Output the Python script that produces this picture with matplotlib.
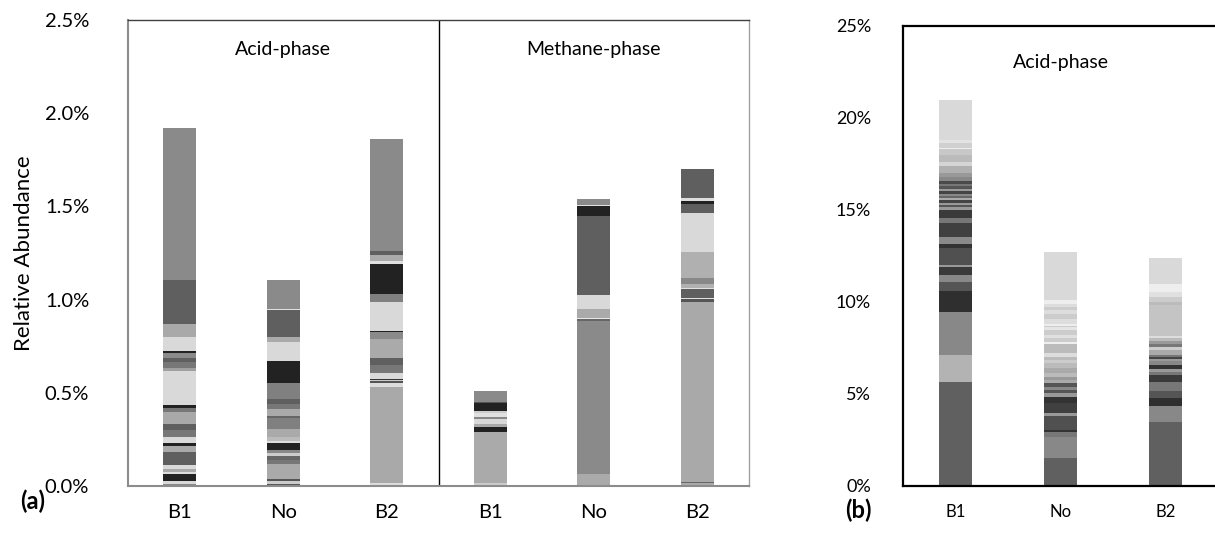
import numpy as np
import matplotlib
matplotlib.use("Agg")
import matplotlib.pyplot as plt
from matplotlib.ticker import FuncFormatter

plt.rcParams['font.family'] = ['Lato', 'DejaVu Sans']

# ---------------- Data: panel (a) ----------------
a_categories = ["B1", "No", "B2", "B1", "No", "B2"]
a_phases = ["Acid-phase", "Methane-phase"]
a_yticks = [0.0, 0.5, 1.0, 1.5, 2.0, 2.5]

# segment heights (%), listed bottom -> top, with matching grey shades
a_acid_b1_h = [0.011, 0.016, 0.038, 0.009, 0.018, 0.022, 0.070, 0.032, 0.015, 0.034,
               0.036, 0.029, 0.068, 0.018, 0.020, 0.179, 0.016, 0.032, 0.023, 0.025,
               0.012, 0.079, 0.066, 0.238, 0.815]
a_acid_b1_c = ["#8a8a8a", "#d9d9d9", "#222222", "#dddddd", "#a9a9a9", "#d9d9d9", "#5f5f5f",
               "#a9a9a9", "#222222", "#d9d9d9", "#777777", "#5f5f5f", "#a9a9a9", "#777777",
               "#222222", "#d9d9d9", "#a0a0a0", "#777777", "#5f5f5f", "#8a8a8a", "#222222",
               "#d9d9d9", "#a9a9a9", "#5f5f5f", "#8a8a8a"]

a_acid_no_h = [0.005, 0.007, 0.016, 0.009, 0.080, 0.025, 0.019, 0.016, 0.014, 0.039,
               0.014, 0.018, 0.043, 0.059, 0.013, 0.034, 0.027, 0.027, 0.087, 0.116,
               0.107, 0.023, 0.147, 0.005, 0.157]
a_acid_no_c = ["#aaaaaa", "#555555", "#cccccc", "#555555", "#aaaaaa", "#777777", "#666666",
               "#cccccc", "#888888", "#222222", "#dddddd", "#bbbbbb", "#aaaaaa", "#808080",
               "#666666", "#aaaaaa", "#777777", "#5f5f5f", "#808080", "#222222", "#d9d9d9",
               "#aaaaaa", "#5f5f5f", "#e0e0e0", "#8a8a8a"]

a_acid_b2_h = [0.018, 0.512, 0.023, 0.009, 0.007, 0.007, 0.029, 0.043, 0.041, 0.099,
               0.039, 0.007, 0.152, 0.045, 0.159, 0.016, 0.034, 0.021, 0.599]
a_acid_b2_c = ["#dddddd", "#a9a9a9", "#dddddd", "#555555", "#cccccc", "#333333", "#d9d9d9",
               "#777777", "#5f5f5f", "#aaaaaa", "#8a8a8a", "#222222", "#d9d9d9", "#808080",
               "#222222", "#e0e0e0", "#aaaaaa", "#5f5f5f", "#8a8a8a"]

a_meth_b1_h = [0.014, 0.275, 0.027, 0.016, 0.028, 0.011, 0.018, 0.012, 0.043, 0.007, 0.059]
a_meth_b1_c = ["#cccccc", "#aaaaaa", "#222222", "#aaaaaa", "#d9d9d9", "#888888", "#e0e0e0",
               "#cccccc", "#222222", "#555555", "#8a8a8a"]

a_meth_no_h = [0.005, 0.059, 0.821, 0.009, 0.005, 0.050, 0.073, 0.425, 0.054, 0.005, 0.032]
a_meth_no_c = ["#dddddd", "#aaaaaa", "#8a8a8a", "#666666", "#e6e6e6", "#aaaaaa", "#d9d9d9",
               "#5f5f5f", "#222222", "#e0e0e0", "#8a8a8a"]

a_meth_b2_h = [0.018, 0.005, 0.964, 0.016, 0.004, 0.048, 0.007, 0.021, 0.034, 0.138,
               0.211, 0.045, 0.019, 0.016, 0.152]
a_meth_b2_c = ["#aaaaaa", "#666666", "#a9a9a9", "#555555", "#e0e0e0", "#5f5f5f", "#e0e0e0",
               "#b0b0b0", "#888888", "#b0b0b0", "#d9d9d9", "#5f5f5f", "#222222", "#dddddd",
               "#5f5f5f"]

# ---------------- Data: panel (b) ----------------
b_categories = ["B1", "No", "B2"]
b_phase = "Acid-phase"
b_yticks = [0, 5, 10, 15, 20, 25]

b_b1_h = [5.67, 1.45, 2.32, 1.17, 0.49, 0.36, 0.45, 0.09, 0.96, 0.18, 0.40, 0.76, 0.24,
          0.45, 0.18,
          0.12, 0.10, 0.15, 0.10, 0.13, 0.10, 0.15, 0.12, 0.15, 0.13, 0.15, 0.20,
          0.22, 0.40, 0.23, 0.36, 0.36, 0.05, 0.25, 0.18, 2.14]
b_b1_c = ["#606060", "#b3b3b3", "#888888", "#2f2f2f", "#555555", "#888888", "#3a3a3a",
          "#999999", "#505050", "#333333", "#8a8a8a", "#404040", "#777777", "#3a3a3a",
          "#999999",
          "#555555", "#999999", "#444444", "#aaaaaa", "#666666", "#888888", "#444444",
          "#999999", "#555555", "#777777", "#4a4a4a", "#888888",
          "#999999", "#b0b0b0", "#d5d5d5", "#bbbbbb", "#c8c8c8", "#eeeeee", "#d0d0d0",
          "#e3e3e3", "#d9d9d9"]

b_no_h = [1.51, 1.14, 0.30, 0.09, 0.76, 0.15, 0.58, 0.33, 0.18, 0.18, 0.18, 0.18, 0.18,
          0.18, 0.22, 0.24, 0.27, 0.18, 0.18, 0.22, 0.47, 0.13, 0.18, 0.18, 0.27, 0.14,
          0.07, 0.14, 0.27, 0.24, 0.22, 0.18, 0.14, 0.25, 2.59]
b_no_c = ["#606060", "#888888", "#777777", "#333333", "#505050", "#999999", "#404040",
          "#333333", "#999999", "#555555", "#888888", "#555555", "#aaaaaa", "#999999",
          "#bbbbbb", "#aaaaaa", "#bbbbbb", "#cccccc", "#bbbbbb", "#dddddd", "#bbbbbb",
          "#eeeeee", "#cccccc", "#e0e0e0", "#cccccc", "#e5e5e5", "#cccccc", "#eeeeee",
          "#dddddd", "#cccccc", "#dddddd", "#cccccc", "#dddddd", "#eeeeee", "#d9d9d9"]

b_b2_h = [3.46, 0.89, 0.45, 0.38, 0.46, 0.40, 0.18, 0.13, 0.24, 0.18, 0.13, 0.11, 0.13,
          0.27, 0.14, 0.18, 0.16, 0.14, 0.13, 1.68, 0.18, 0.27, 0.27, 0.42, 1.40]
b_b2_c = ["#606060", "#888888", "#2f2f2f", "#555555", "#777777", "#3a3a3a", "#777777",
          "#999999", "#333333", "#888888", "#999999", "#444444", "#777777", "#aaaaaa",
          "#cccccc", "#777777", "#999999", "#bbbbbb", "#dddddd", "#c4c4c4", "#bbbbbb",
          "#cccccc", "#e0e0e0", "#eeeeee", "#d9d9d9"]

a_stacks = [(a_acid_b1_h, a_acid_b1_c), (a_acid_no_h, a_acid_no_c), (a_acid_b2_h, a_acid_b2_c),
            (a_meth_b1_h, a_meth_b1_c), (a_meth_no_h, a_meth_no_c), (a_meth_b2_h, a_meth_b2_c)]
b_stacks = [(b_b1_h, b_b1_c), (b_no_h, b_no_c), (b_b2_h, b_b2_c)]

W, H = 1215, 536
fig = plt.figure(figsize=(W / 100, H / 100), dpi=100)


def draw_stacks(ax, stacks, width):
    for i, (hts, cols) in enumerate(stacks):
        hts = np.asarray(hts, dtype=float)
        bottoms = np.concatenate([[0.0], np.cumsum(hts)[:-1]])
        ax.bar(np.full(len(hts), i), hts, bottom=bottoms, width=width,
               color=cols, edgecolor='none', linewidth=0)


# ---------- Panel (a) ----------
axa = fig.add_axes([128 / W, 1 - 486 / H, 621 / W, 466 / H])
draw_stacks(axa, a_stacks, 0.32)
axa.set_xlim(-0.5, len(a_categories) - 0.5)
axa.set_ylim(a_yticks[0], a_yticks[-1])
axa.set_yticks(a_yticks)
axa.yaxis.set_major_formatter(FuncFormatter(lambda v, p: f"{v:.1f}%"))
axa.set_xticks(range(len(a_categories)))
axa.set_xticklabels(a_categories)
axa.tick_params(axis='both', length=0, labelsize=14.5, colors='black')
axa.tick_params(axis='y', pad=28)
axa.tick_params(axis='x', pad=13)
axa.set_ylabel("Relative Abundance", fontsize=16, labelpad=8)
axa.spines['left'].set_color('#8c8c8c')
axa.spines['left'].set_linewidth(1.5)
axa.spines['bottom'].set_color('#8c8c8c')
axa.spines['bottom'].set_linewidth(1.5)
axa.spines['top'].set_color('#404040')
axa.spines['top'].set_linewidth(1.0)
axa.spines['right'].set_color('#a0a0a0')
axa.spines['right'].set_linewidth(1.0)
axa.axvline(2.5, color='black', linewidth=1.0)
axa.text(1.0, 2.34, a_phases[0], ha='center', va='center', fontsize=14)
axa.text(4.0, 2.34, a_phases[1], ha='center', va='center', fontsize=14)

# ---------- Panel (b) ----------
axb = fig.add_axes([903 / W, 1 - 486 / H, 315 / W, 460 / H])
draw_stacks(axb, b_stacks, 0.31)
axb.set_xlim(-0.5, len(b_categories) - 0.5)
axb.set_ylim(b_yticks[0], b_yticks[-1])
axb.set_yticks(b_yticks)
axb.yaxis.set_major_formatter(FuncFormatter(lambda v, p: f"{v:.0f}%"))
axb.set_xticks(range(len(b_categories)))
axb.set_xticklabels(b_categories)
axb.tick_params(axis='both', length=0, colors='black')
axb.tick_params(axis='y', pad=23, labelsize=13)
axb.tick_params(axis='x', pad=13, labelsize=12)
for s in axb.spines.values():
    s.set_color('black')
    s.set_linewidth(1.6)
axb.text(1.0, 23.0, b_phase, ha='center', va='center', fontsize=14)

fig.text(33 / W, 1 - 501 / H, "(a)", ha='center', va='center', fontsize=17, fontweight='bold')
fig.text(858 / W, 1 - 510 / H, "(b)", ha='center', va='center', fontsize=17, fontweight='bold')

fig.savefig("out.png", dpi=100)
